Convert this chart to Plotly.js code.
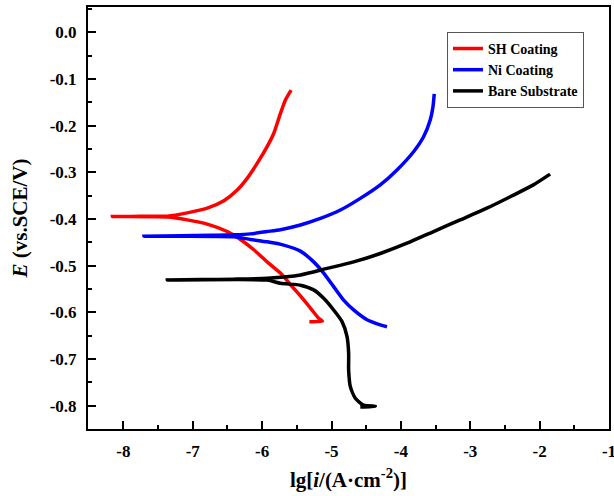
<!DOCTYPE html>
<html>
<head>
<meta charset="utf-8">
<script src="https://cdn.plot.ly/plotly-3.0.1.min.js"></script>
<style>html,body{margin:0;padding:0;background:#fff}</style>
</head>
<body>
<div id="chart" style="width:614px;height:496px"></div>
<script>
// ---- Data (lg i, E) ----
// SH Coating
const shCathX = [-7.367, -7.079, -6.791, -6.503, -6.312, -6.120, -5.928, -5.736, -5.549, -5.448, -5.304, -5.189, -5.132, -5.319];
const shCathE = [-0.396, -0.402, -0.411, -0.427, -0.444, -0.466, -0.492, -0.516, -0.548, -0.565, -0.591, -0.612, -0.619, -0.620];
const shAnoX = [-8.159, -7.895, -7.608, -7.367, -7.079, -6.791, -6.552, -6.359, -6.216, -6.072, -5.928, -5.833, -5.736, -5.664, -5.582];
const shAnoE = [-0.395, -0.395, -0.394, -0.394, -0.387, -0.377, -0.361, -0.338, -0.313, -0.281, -0.245, -0.217, -0.174, -0.145, -0.124];

// Ni Coating
const niCathX = [-6.408, -6.168, -5.928, -5.689, -5.448, -5.257, -5.113, -4.969, -4.825, -4.681, -4.488, -4.297, -4.200];
const niCathE = [-0.438, -0.444, -0.449, -0.456, -0.469, -0.492, -0.516, -0.545, -0.574, -0.595, -0.616, -0.627, -0.631];
const niAnoX = [-7.704, -7.176, -6.744, -6.408, -6.168, -5.928, -5.736, -5.448, -5.160, -4.872, -4.585, -4.297, -4.056, -3.817, -3.673, -3.577, -3.538, -3.519];
const niAnoE = [-0.437, -0.436, -0.435, -0.434, -0.432, -0.427, -0.423, -0.413, -0.399, -0.381, -0.356, -0.327, -0.295, -0.256, -0.224, -0.188, -0.160, -0.132];

// Bare Substrate
const bareCathX = [-5.928, -5.736, -5.448, -5.257, -5.113, -4.969, -4.848, -4.776, -4.753, -4.753, -4.729, -4.657, -4.537, -4.369, -4.585];
const bareCathE = [-0.531, -0.538, -0.542, -0.552, -0.570, -0.595, -0.620, -0.652, -0.688, -0.724, -0.759, -0.784, -0.799, -0.801, -0.803];
const bareAnoX = [-7.367, -6.888, -6.408, -5.928, -5.448, -5.064, -4.681, -4.297, -3.912, -3.529, -3.145, -2.761, -2.378, -2.090, -1.849];
const bareAnoE = [-0.531, -0.530, -0.529, -0.527, -0.520, -0.506, -0.492, -0.474, -0.452, -0.427, -0.402, -0.377, -0.349, -0.327, -0.304];

const seriesNames = ["SH Coating", "Ni Coating", "Bare Substrate"];
const seriesColors = ["#ff0000", "#0000ff", "#000000"];

const xTickVals = [-8, -7, -6, -5, -4, -3, -2, -1];
const xTickText = ["-8", "-7", "-6", "-5", "-4", "-3", "-2", "-1"];
const yTickVals = [0, -0.1, -0.2, -0.3, -0.4, -0.5, -0.6, -0.7, -0.8];
const yTickText = ["0.0", "-0.1", "-0.2", "-0.3", "-0.4", "-0.5", "-0.6", "-0.7", "-0.8"];

// ---- Build traces: cathodic end -> corrosion tip -> anodic end ----
function scan(cx, ce, ax, ae) {
  return {
    x: cx.slice().reverse().concat(ax),
    y: ce.slice().reverse().concat(ae)
  };
}
const scans = [
  scan(shCathX, shCathE, shAnoX, shAnoE),
  scan(niCathX, niCathE, niAnoX, niAnoE),
  scan(bareCathX, bareCathE, bareAnoX, bareAnoE)
];
const traces = scans.map((s, i) => ({
  type: "scatter",
  mode: "lines",
  name: seriesNames[i],
  x: s.x,
  y: s.y,
  line: {color: seriesColors[i], width: 3.5, shape: "spline", smoothing: 0.6}
}));

const FONT = "'Liberation Serif', serif";

const layout = {
  width: 614,
  height: 496,
  margin: {l: 88, r: 5, t: 7, b: 67},
  paper_bgcolor: "#fff",
  plot_bgcolor: "#fff",
  font: {family: FONT, color: "#000"},
  showlegend: true,
  legend: {
    x: 0.689, y: 0.941, xanchor: "left", yanchor: "top",
    bgcolor: "#fff", bordercolor: "#555", borderwidth: 1,
    font: {family: FONT, size: 14, color: "#000", weight: "bold"},
    tracegroupgap: 0
  },
  xaxis: {
    range: [-8.51, -1],
    tickmode: "array", tickvals: xTickVals, ticktext: xTickText,
    ticks: "inside", ticklen: 8, tickwidth: 2, tickcolor: "#000",
    minor: {tickmode: "linear", tick0: -8, dtick: 0.5, ticks: "inside", ticklen: 4, tickwidth: 2, tickcolor: "#000"},
    showline: true, linewidth: 2, linecolor: "#000", mirror: true,
    showgrid: false, zeroline: false,
    ticklabelstandoff: 6,
    ticklabeloverflow: "allow",
    tickfont: {family: FONT, size: 17, color: "#000", weight: "bold"},
    title: {text: "lg[<i>i</i>/(A·cm<sup>-2</sup>)]", font: {family: FONT, size: 21, color: "#000", weight: "bold"}, standoff: 12}
  },
  yaxis: {
    range: [-0.85, 0.054],
    tickmode: "array", tickvals: yTickVals, ticktext: yTickText,
    ticks: "inside", ticklen: 8, tickwidth: 2, tickcolor: "#000",
    minor: {tickmode: "linear", tick0: 0, dtick: 0.05, ticks: "inside", ticklen: 4, tickwidth: 2, tickcolor: "#000"},
    showline: true, linewidth: 2, linecolor: "#000", mirror: true,
    showgrid: false, zeroline: false,
    ticklabelstandoff: 6,
    tickfont: {family: FONT, size: 17, color: "#000", weight: "bold"},
    title: {text: "<i>E</i> (vs.SCE/V)", font: {family: FONT, size: 21, color: "#000", weight: "bold"}, standoff: 16}
  }
};

Plotly.newPlot("chart", traces, layout, {displayModeBar: false, staticPlot: true});
</script>
</body>
</html>
